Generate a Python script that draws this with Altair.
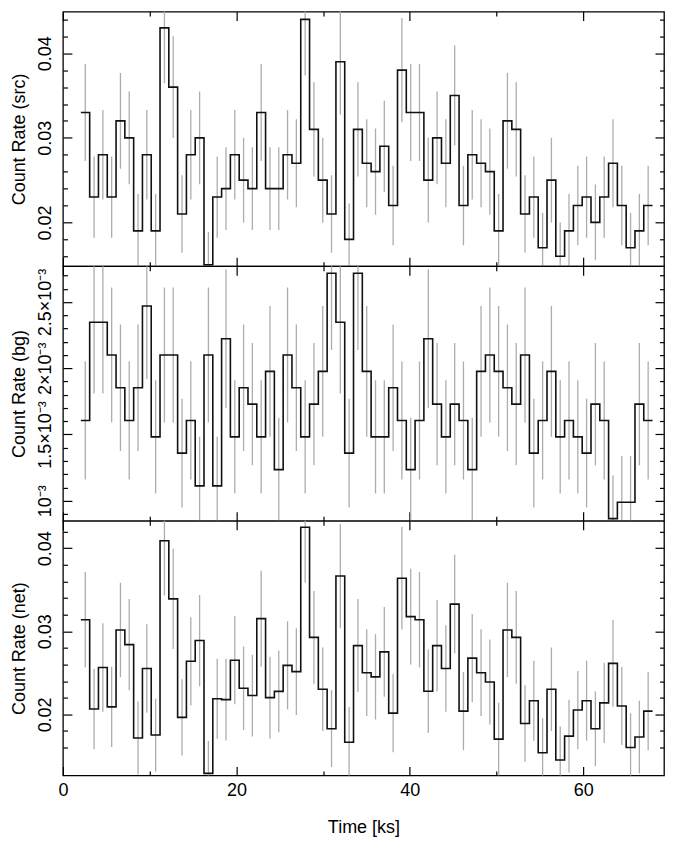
import altair as alt
import pandas as pd

FONT = "Liberation Sans"
UNIT = 1e-3          # values below are in units of 10^-3 counts/s
BIN_START = 2.07     # ks, start of first time bin
BIN_WIDTH = 1.014    # ks

# ---- source light curve ----
src_rate = [33, 23, 28, 23, 32, 30, 19, 28, 19, 43,
            36, 21, 28, 30, 15, 23, 24, 28, 25, 24,
            33, 24, 24, 28, 27, 44, 31, 25, 21, 39,
            18, 31, 27, 26, 29, 22, 38, 33, 33, 25,
            30, 27, 35, 22, 28, 27, 26, 19, 32, 31,
            21, 23, 17, 25, 16, 19, 22, 23, 20, 23,
            27, 22, 17, 19, 22]
src_err = [5.74, 4.80, 5.29, 4.80, 5.66, 5.48, 4.36, 5.29, 4.36, 6.56,
           6.00, 4.58, 5.29, 5.48, 3.87, 4.80, 4.90, 5.29, 5.00, 4.90,
           5.74, 4.90, 4.90, 5.29, 5.20, 6.63, 5.57, 5.00, 4.58, 6.24,
           4.24, 5.57, 5.20, 5.10, 5.39, 4.69, 6.16, 5.74, 5.74, 5.00,
           5.48, 5.20, 5.92, 4.69, 5.29, 5.20, 5.10, 4.36, 5.66, 5.57,
           4.58, 4.80, 4.12, 5.00, 4.00, 4.36, 4.69, 4.80, 4.47, 4.80,
           5.20, 4.69, 4.12, 4.36, 4.69]

# ---- background light curve ----
bg_rate = [1.606, 2.347, 2.347, 2.100, 1.853, 1.606, 1.853, 2.470, 1.482, 2.100,
           2.100, 1.359, 1.606, 1.112, 2.100, 1.112, 2.223, 1.482, 1.853, 1.729,
           1.482, 1.976, 1.235, 2.100, 1.853, 1.482, 1.729, 1.976, 2.717, 2.347,
           1.359, 2.717, 1.976, 1.482, 1.482, 1.853, 1.606, 1.235, 1.606, 2.223,
           1.729, 1.482, 1.729, 1.606, 1.235, 1.976, 2.100, 1.976, 1.853, 1.729,
           2.100, 1.359, 1.606, 1.976, 1.482, 1.606, 1.482, 1.359, 1.729, 1.606,
           0.865, 0.988, 0.988, 1.729, 1.606]
bg_err = [0.445, 0.538, 0.538, 0.509, 0.478, 0.445, 0.478, 0.552, 0.428, 0.509,
          0.509, 0.410, 0.445, 0.371, 0.509, 0.371, 0.524, 0.428, 0.478, 0.462,
          0.428, 0.494, 0.391, 0.509, 0.478, 0.428, 0.462, 0.494, 0.579, 0.538,
          0.410, 0.579, 0.494, 0.428, 0.428, 0.478, 0.445, 0.391, 0.445, 0.524,
          0.462, 0.428, 0.462, 0.445, 0.391, 0.494, 0.509, 0.494, 0.478, 0.462,
          0.509, 0.410, 0.445, 0.494, 0.428, 0.445, 0.428, 0.410, 0.462, 0.445,
          0.327, 0.349, 0.349, 0.462, 0.445]

# ---- net light curve ----
net_rate = [31.39, 20.65, 25.65, 20.90, 30.15, 28.39, 17.15, 25.53, 17.52, 40.90,
            33.90, 19.64, 26.39, 28.89, 12.90, 21.89, 21.78, 26.52, 23.15, 22.27,
            31.52, 22.02, 22.77, 25.90, 25.15, 42.52, 29.27, 23.02, 18.28, 36.65,
            16.64, 28.28, 25.02, 24.52, 27.52, 20.15, 36.39, 31.77, 31.39, 22.78,
            28.27, 25.52, 33.27, 20.39, 26.77, 25.02, 23.90, 17.02, 30.15, 29.27,
            18.90, 21.64, 15.39, 23.02, 14.52, 17.39, 20.52, 21.64, 18.27, 21.39,
            26.14, 21.01, 16.01, 17.27, 20.39]
net_err = [5.76, 4.83, 5.32, 4.82, 5.68, 5.50, 4.39, 5.32, 4.38, 6.58,
           6.02, 4.60, 5.31, 5.49, 3.91, 4.81, 4.93, 5.31, 5.02, 4.92,
           5.76, 4.92, 4.91, 5.32, 5.22, 6.65, 5.59, 5.02, 4.62, 6.27,
           4.26, 5.60, 5.22, 5.12, 5.40, 4.71, 6.18, 5.76, 5.76, 5.03,
           5.50, 5.21, 5.93, 4.71, 5.31, 5.22, 5.12, 4.39, 5.68, 5.59,
           4.61, 4.81, 4.15, 5.02, 4.02, 4.38, 4.71, 4.81, 4.50, 4.82,
           5.21, 4.70, 4.14, 4.38, 4.71]

# ---- axes ----
x_domain = [0, 69.3]
x_major = [0, 20, 40, 60]
x_minor = [10, 30, 50]

src_domain = [0.01482, 0.04492]
net_domain = [0.01265, 0.04329]
bg_domain = [0.000848, 0.00277]

cr_major = [0.02, 0.03, 0.04]
cr_minor = [0.016, 0.018, 0.022, 0.024, 0.026, 0.028, 0.032, 0.034, 0.036, 0.038, 0.042, 0.044]
bg_major = [0.0010, 0.0015, 0.0020, 0.0025]
bg_minor = [0.0009, 0.0011, 0.0012, 0.0013, 0.0014, 0.0016, 0.0017, 0.0018, 0.0019,
            0.0021, 0.0022, 0.0023, 0.0024, 0.0026, 0.0027]
bg_labels = ["10\u207b\u00b3", "1.5\u00d710\u207b\u00b3", "2\u00d710\u207b\u00b3", "2.5\u00d710\u207b\u00b3"]

N = len(src_rate)
edges = [BIN_START + i * BIN_WIDTH for i in range(N + 1)]
centers = [BIN_START + (i + 0.5) * BIN_WIDTH for i in range(N)]

MAJ = 9
MIN = 4.5
W = 602
H = 255


def ax(orient, values, size, labels=False, title=None, **kw):
    return alt.Axis(orient=orient, values=values, offset=-size, tickSize=size,
                    labels=labels, title=title, domain=False, grid=False,
                    tickColor="black", tickWidth=1.2, **kw)


def bg_label_expr():
    expr = "''"
    for v, lab in reversed(list(zip(bg_major, bg_labels))):
        expr = f"abs(datum.value - {v}) < 1e-7 ? '{lab}' : ({expr})"
    return expr


def panel(rate, err, domain, y_major, y_minor, title, label_expr=None, fmt=".2f", bottom=False):
    line_df = pd.DataFrame({"t": edges,
                            "r": [v * UNIT for v in rate] + [rate[-1] * UNIT]})
    err_df = pd.DataFrame({"t": centers,
                           "lo": [(v - e) * UNIT for v, e in zip(rate, err)],
                           "hi": [(v + e) * UNIT for v, e in zip(rate, err)]})
    xs = alt.Scale(domain=x_domain, nice=False, zero=False)
    ys = alt.Scale(domain=domain, nice=False, zero=False)

    ylab = dict(labelAngle=270, labelAlign="center", labelBaseline="bottom",
                labelPadding=8, labelOverlap=False, titlePadding=8)
    if label_expr:
        ylab["labelExpr"] = label_expr
    else:
        ylab["format"] = fmt
    xlab = dict(labelPadding=6, labelOverlap=False, labelFlush=False, format="d", titlePadding=19)

    if bottom:
        x_axis_main = ax("bottom", x_major, MAJ, labels=True, title="Time [ks]", **xlab)
    else:
        x_axis_main = ax("bottom", x_major, MAJ)

    err_layer = alt.Chart(err_df).mark_rule(color="#adadad", strokeWidth=1.3, clip=True).encode(
        x=alt.X("t:Q", scale=xs, axis=x_axis_main),
        y=alt.Y("lo:Q", scale=ys, axis=ax("left", y_major, MAJ, labels=True, title=title, **ylab)),
        y2="hi:Q",
    )
    line_layer = alt.Chart(line_df).mark_line(interpolate="step-after", color="#111111",
                                              strokeWidth=1.6, clip=True).encode(
        x=alt.X("t:Q", scale=xs, axis=ax("bottom", x_minor, MIN)),
        y=alt.Y("r:Q", scale=ys, axis=ax("left", y_minor, MIN)),
    )
    ghost1 = alt.Chart(line_df).mark_point(opacity=0, clip=True).encode(
        x=alt.X("t:Q", scale=xs, axis=ax("top", x_major, MAJ)),
        y=alt.Y("r:Q", scale=ys, axis=ax("right", y_major, MAJ)),
    )
    ghost2 = alt.Chart(line_df).mark_point(opacity=0, clip=True).encode(
        x=alt.X("t:Q", scale=xs, axis=ax("top", x_minor, MIN)),
        y=alt.Y("r:Q", scale=ys, axis=ax("right", y_minor, MIN)),
    )
    return (alt.layer(err_layer, line_layer, ghost1, ghost2)
            .resolve_scale(x="independent", y="independent")
            .resolve_axis(x="independent", y="independent")
            .properties(width=W, height=H))


p_src = panel(src_rate, src_err, src_domain, cr_major, cr_minor, "Count Rate (src)")
p_bg = panel(bg_rate, bg_err, bg_domain, bg_major, bg_minor, "Count Rate (bg)", label_expr=bg_label_expr())
p_net = panel(net_rate, net_err, net_domain, cr_major, cr_minor, "Count Rate (net)", bottom=True)

chart = (alt.vconcat(p_src, p_bg, p_net, spacing=0, bounds="flush")
         .properties(padding={"left": 2, "top": 1, "right": 2, "bottom": 2}, background="white")
         .configure_view(stroke="black", strokeWidth=1.3, fill="white")
         .configure_axis(labelFont=FONT, titleFont=FONT, labelFontSize=18, titleFontSize=18,
                         titleFontWeight="normal", labelColor="black", titleColor="black"))

chart.save("out.html", embed_options={"renderer": "svg", "actions": False})
